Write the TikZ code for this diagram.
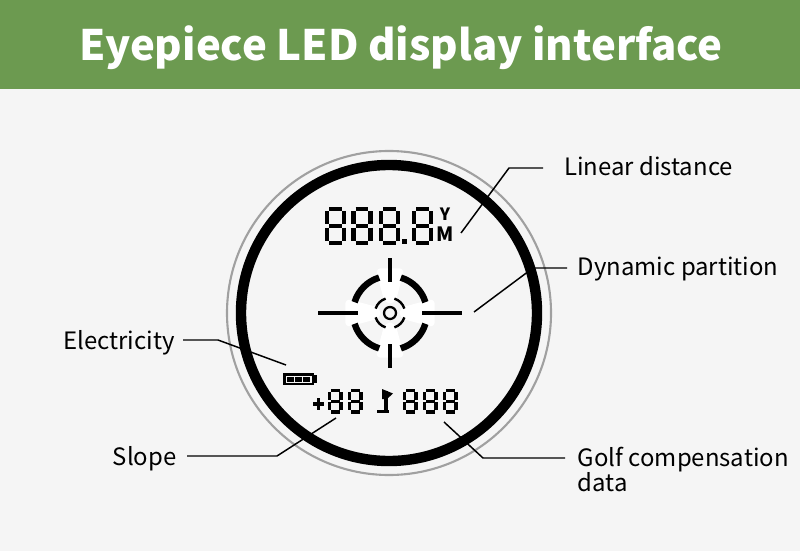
\documentclass[tikz,border=0pt]{standalone}
\usepackage{fontspec}
\setmainfont{Noto Sans CJK SC}
\definecolor{barGreen}{HTML}{6C9A50}
\definecolor{panelGray}{HTML}{F5F5F5}
\definecolor{ringGray}{HTML}{A0A0A0}
\tikzset{
    callout/.style={black, line width=1.05pt},
    lab/.style={anchor=west, inner xsep=9pt, inner ysep=0pt, text height=15.8pt, text depth=4pt, font=\fontsize{17}{20}\selectfont},
    labl/.style={lab, anchor=east, inner xsep=7.3pt, text height=18pt},
    glow/.style={fill=white, draw=none, rounded corners=4pt},
}
% one seven segment digit: x, y, width, height, line width
\newcommand{\segdigit}[5]{
    \begin{scope}[shift={(#1,#2)}, xscale=#3, yscale=#4]
        \foreach \xa/\ya/\xb/\yb in {0.12/0/0.88/0, 0.12/0.5/0.88/0.5, 0.12/1/0.88/1, 0/0.07/0/0.45, 1/0.07/1/0.45, 0/0.55/0/0.93, 1/0.55/1/0.93}
            \draw[line width=#5] (\xa,\ya) -- (\xb,\yb);
    \end{scope}
}
\begin{document}
\begin{tikzpicture}[x=0.025cm, y=-0.025cm]
    \useasboundingbox (0,0) rectangle (800,551);
    \fill[panelGray] (0,0) rectangle (800,551);
    \fill[barGreen] (0,0) rectangle (800,89);
    \node[white, font=\fontsize{29.8}{36}\bfseries\selectfont] (title) at (401,48) {Eyepiece LED display interface};

    % rings
    \draw[ringGray, line width=1.5pt] (389,313) circle (162);
    \draw[black, line width=7.4pt] (389,313) circle (148);

    % top read out
    \segdigit{327}{209}{17}{34}{2.9pt}
    \segdigit{353.5}{209}{17}{34}{2.9pt}
    \segdigit{381}{209}{17}{34}{2.9pt}
    \segdigit{414}{209}{17}{34}{2.9pt}
    \fill (402,239) rectangle (407,244);
    \node[font=\fontsize{12}{12}\bfseries\selectfont, inner sep=0pt] (yard) at (445,214) {Y};
    \node[font=\fontsize{14}{14}\bfseries\selectfont, inner sep=0pt] (metre) at (445,234) {M};

    % reticle
    \foreach \a in {0,90,180,270}
        \fill[glow] ([shift={(\a-28:11)}]390,313) -- ([shift={(\a-18:47)}]390,313) -- ([shift={(\a+18:47)}]390,313) -- ([shift={(\a+28:11)}]390,313) -- cycle;
    \draw[line width=2.6pt] (318,313) -- (358,313);
    \draw[line width=2.6pt] (422,313) -- (462,313);
    \draw[line width=2.6pt] (390,258) -- (390,282);
    \draw[line width=2.6pt] (390,344) -- (390,368);
    \foreach \a in {17,107,197,287} {
        \draw[line width=4.6pt] ([shift={(\a:37)}]390,313) arc[start angle=\a, end angle=\a+56, radius=37];
        \draw[line width=1.7pt] ([shift={(\a:15)}]390,313) arc[start angle=\a, end angle=\a+56, radius=15];
    }
    \draw[line width=1.6pt] (390,313) circle (6);

    % battery
    \draw[line width=2pt] (284.5,374.5) rectangle (313,384);
    \fill (314,375) rectangle (316.5,383);
    \foreach \x in {287,295,303}
        \fill (\x,376.5) rectangle +(7,5);

    % bottom read out
    \draw[line width=2.2pt] (313,404) -- (324,404);
    \draw[line width=2.2pt] (318.5,398) -- (318.5,410);
    \segdigit{329.5}{390.5}{11.5}{21.5}{2.2pt}
    \segdigit{349.5}{390.5}{11.5}{21.5}{2.2pt}
    \draw[line width=2.3pt] (386,391) -- (386,411);
    \draw[line width=2.3pt] (377,411.5) -- (388.5,411.5);
    \fill (382,389) -- (393,393.5) -- (387,399) -- (382,399) -- cycle;
    \segdigit{404.5}{390.5}{11.5}{21.5}{2.2pt}
    \segdigit{424.5}{390.5}{11.5}{21.5}{2.2pt}
    \segdigit{444.5}{390.5}{11.5}{21.5}{2.2pt}

    % labels
    \node[lab, inner xsep=15pt, text height=14.4pt] (linear) at (543,168) {Linear distance};
    \node[lab, inner xsep=7.5pt, text height=14.4pt] (dynamic) at (567,268) {Dynamic partition};
    \node[lab] (golf) at (565,458) {Golf compensation};
    \node[lab] (golfdata) at (565,483) {data};
    \node[labl, inner xsep=5.7pt] (power) at (183,340) {Electricity};
    \node[labl] (slope) at (187,456) {Slope};

    % callouts
    \coordinate (linearEnd) at (461,233);
    \coordinate (dynamicEnd) at (474,312);
    \coordinate (powerEnd) at (286,365);
    \coordinate (slopeEnd) at (336,418);
    \coordinate (golfEnd) at (444,422);
    \draw[callout] (linearEnd) -- (509,168) -- (linear.west);
    \draw[callout] (dynamicEnd) -- (533,268) -- (dynamic.west);
    \draw[callout] (powerEnd) -- (218,340) -- (power.east);
    \draw[callout] (slopeEnd) -- (277,456) -- (slope.east);
    \draw[callout] (golfEnd) -- (483,458) -- (golf.west);
\end{tikzpicture}
\end{document}
